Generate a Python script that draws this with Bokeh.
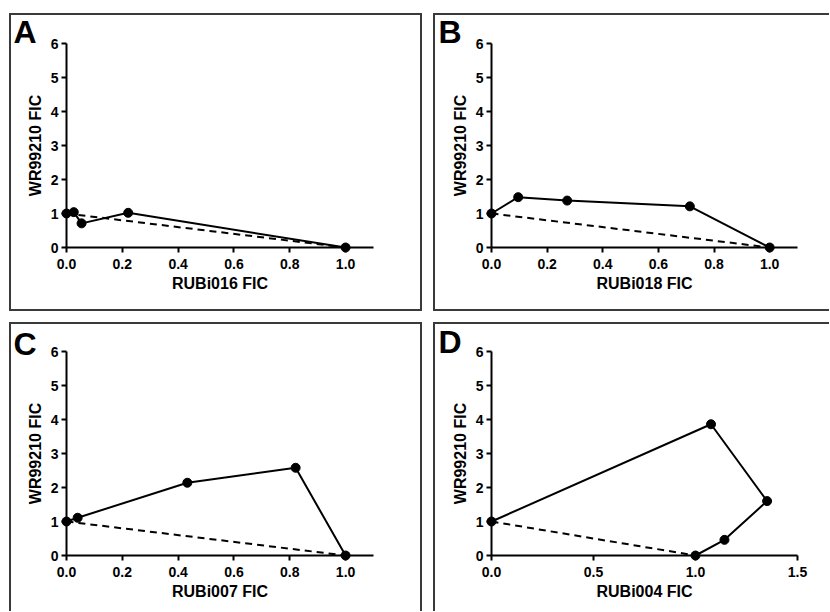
from bokeh.plotting import figure
from bokeh.layouts import row, column
from bokeh.models import (Range1d, FixedTicker, NumeralTickFormatter, Spacer)
from bokeh.core.properties import value
from bokeh.embed import file_html
from bokeh.resources import INLINE

# ---- data ----
panel_letters = ["A", "B", "C", "D"]
x_labels = ["RUBi016 FIC", "RUBi018 FIC", "RUBi007 FIC", "RUBi004 FIC"]
y_label = "WR99210 FIC"

a_x = [0.0, 0.026, 0.054, 0.221, 1.0]
a_y = [1.0, 1.04, 0.71, 1.02, 0.0]

b_x = [0.0, 0.096, 0.272, 0.713, 1.0]
b_y = [1.0, 1.48, 1.38, 1.21, 0.0]

c_x = [0.0, 0.04, 0.433, 0.821, 1.0]
c_y = [1.0, 1.11, 2.14, 2.58, 0.0]

d_x = [0.0, 1.076, 1.351, 1.142, 1.0]
d_y = [1.0, 3.86, 1.60, 0.46, 0.0]

additivity_x = [0.0, 1.0]
additivity_y = [1.0, 0.0]

x_ticks_ac = [0.0, 0.2, 0.4, 0.6, 0.8, 1.0]
x_ticks_d = [0.0, 0.5, 1.0, 1.5]
y_ticks = [0, 1, 2, 3, 4, 5, 6]
y_max = 6

FONT = "Liberation Sans"
BORDER = "2px solid #3a3a3a"


def make_panel(letter, letter_dy, xs, ys, xlabel, xmax, xticks, width, height,
               mb_left, mb_right, mb_top, mb_bottom, styles):
    p = figure(width=width, height=height, output_backend="svg",
               toolbar_location=None,
               x_range=Range1d(0, xmax), y_range=Range1d(0, y_max),
               min_border_left=mb_left, min_border_right=mb_right,
               min_border_top=mb_top, min_border_bottom=mb_bottom,
               styles=styles)
    p.outline_line_color = None
    p.grid.visible = False
    p.background_fill_color = "white"
    p.border_fill_color = "white"

    for ax in (p.xaxis[0], p.yaxis[0]):
        ax.axis_line_width = 2
        ax.axis_line_color = "black"
        ax.major_tick_line_width = 2
        ax.major_tick_line_color = "black"
        ax.major_tick_in = 0
        ax.major_tick_out = 5
        ax.minor_tick_line_color = None
        ax.major_label_text_font = FONT
        ax.major_label_text_font_style = "bold"
        ax.major_label_text_font_size = "14px"
        ax.major_label_text_color = "black"
        ax.axis_label_text_font = FONT
        ax.axis_label_text_font_style = "bold"
        ax.axis_label_text_font_size = "16px"
        ax.axis_label_text_color = "black"

    p.xaxis[0].ticker = FixedTicker(ticks=xticks)
    p.xaxis[0].formatter = NumeralTickFormatter(format="0.0")
    p.xaxis[0].axis_label = xlabel
    p.xaxis[0].major_label_standoff = 6
    p.xaxis[0].axis_label_standoff = 3

    p.yaxis[0].ticker = FixedTicker(ticks=y_ticks)
    p.yaxis[0].axis_label = y_label
    p.yaxis[0].major_label_standoff = 3
    p.yaxis[0].axis_label_standoff = 4

    p.line(additivity_x, additivity_y, line_width=2, line_color="black",
           line_dash="7 5", level="overlay")
    p.line(xs, ys, line_width=2, line_color="black", level="overlay")
    p.scatter(xs, ys, size=9, fill_color="black", line_color="black",
              level="overlay")

    # panel letter, anchored at the top-left corner of the plot area
    p.text(x=[0], y=[y_max], text=[letter], x_offset=-53, y_offset=letter_dy,
           text_font=value(FONT), text_font_style="bold",
           text_font_size="32px", text_color="black",
           text_baseline="alphabetic", text_align="left", level="overlay")
    return p


pA = make_panel(panel_letters[0], -12, a_x, a_y, x_labels[0], 1.1, x_ticks_ac,
                413, 298, 55, 51, 28, 66, {"border": BORDER})
pB = make_panel(panel_letters[1], -12, b_x, b_y, x_labels[1], 1.1, x_ticks_ac,
                396, 298, 56, 34, 28, 66,
                {"border": BORDER, "border-right": "none"})
pC = make_panel(panel_letters[2], -8, c_x, c_y, x_labels[2], 1.1, x_ticks_ac,
                413, 289, 55, 51, 27, 58,
                {"border": BORDER, "border-bottom": "none"})
pD = make_panel(panel_letters[3], -10, d_x, d_y, x_labels[3], 1.5, x_ticks_d,
                396, 289, 56, 34, 27, 58,
                {"border": BORDER, "border-right": "none", "border-bottom": "none"})

layout = column(
    Spacer(height=13),
    row(Spacer(width=9), pA, Spacer(width=11), pB),
    Spacer(height=11),
    row(Spacer(width=9), pC, Spacer(width=11), pD),
)

open("out.html", "w").write(file_html(layout, INLINE))
